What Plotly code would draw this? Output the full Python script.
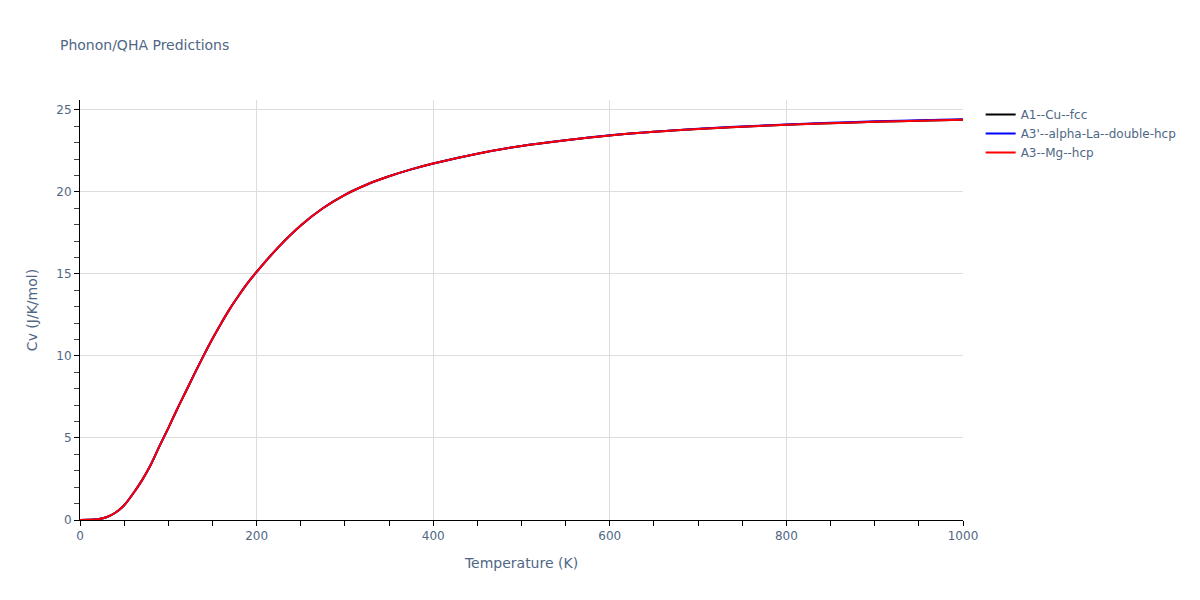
import plotly.graph_objects as go

temperature = [0, 10, 20, 30, 40, 50, 60, 70, 80, 90, 100, 110, 120, 130, 140, 150, 160, 170, 180, 190,
               200, 225, 250, 275, 300, 325, 350, 375, 400, 450, 500, 550, 600, 650, 700, 750, 800, 850,
               900, 950, 1000]

cv_cu = [0.0, 0.01, 0.05, 0.17, 0.44, 0.9, 1.6, 2.4, 3.35, 4.5, 5.6, 6.75, 7.85, 8.95, 10.02, 11.05,
         12.0, 12.9, 13.7, 14.45, 15.12, 16.65, 17.95, 19.0, 19.82, 20.45, 20.95, 21.37, 21.73, 22.33,
         22.8, 23.15, 23.44, 23.66, 23.83, 23.97, 24.09, 24.19, 24.27, 24.34, 24.39]

cv_la = [0.0, 0.01, 0.05, 0.17, 0.44, 0.9, 1.6, 2.4, 3.35, 4.5, 5.6, 6.75, 7.85, 8.95, 10.02, 11.05,
         12.0, 12.9, 13.7, 14.45, 15.12, 16.65, 17.95, 19.0, 19.82, 20.45, 20.95, 21.37, 21.73, 22.33,
         22.8, 23.15, 23.45, 23.67, 23.85, 23.99, 24.11, 24.21, 24.3, 24.37, 24.42]

cv_mg = [0.0, 0.01, 0.05, 0.17, 0.44, 0.9, 1.6, 2.4, 3.35, 4.5, 5.6, 6.75, 7.85, 8.95, 10.02, 11.05,
         12.0, 12.9, 13.7, 14.45, 15.12, 16.65, 17.95, 19.0, 19.82, 20.45, 20.95, 21.37, 21.73, 22.33,
         22.8, 23.15, 23.44, 23.66, 23.83, 23.97, 24.09, 24.19, 24.27, 24.34, 24.39]

series_names = ["A1--Cu--fcc", "A3'--alpha-La--double-hcp", "A3--Mg--hcp"]
series_values = [cv_cu, cv_la, cv_mg]
series_colors = ["black", "blue", "red"]

fig = go.Figure()
for name, vals, color in zip(series_names, series_values, series_colors):
    fig.add_trace(go.Scatter(x=temperature, y=vals, mode="lines", name=name,
                             line=dict(color=color, width=2, shape="spline")))

axis_common = dict(showline=True, linecolor="black", linewidth=1, ticks="outside",
                   tickcolor="black", ticklen=5, gridcolor="#dddddd", zeroline=False,
                   tickfont=dict(color="#506784", size=12))

fig.update_layout(
    template="plotly_white",
    width=1200, height=600,
    margin=dict(l=72, r=245, t=92, b=88),
    title=dict(text="Phonon/QHA Predictions", x=0.0433, xanchor="left", y=0.947,
               font=dict(size=14, color="#506784")),
    font=dict(family="DejaVu Sans", color="#506784", size=12),
    xaxis=dict(title=dict(text="Temperature (K)", font=dict(size=14)), range=[0, 1000], dtick=200,
               minor=dict(ticks="outside", dtick=50, ticklen=5, tickcolor="black", showgrid=False),
               **axis_common),
    yaxis=dict(title=dict(text="Cv (J/K/mol)", font=dict(size=14)), range=[0, 25.6], dtick=5,
               minor=dict(ticks="outside", dtick=1, ticklen=5, tickcolor="#444", showgrid=False),
               **axis_common),
    legend=dict(x=1.02, y=1, font=dict(color="#506784", size=12)),
)

fig.write_html("out.html")
